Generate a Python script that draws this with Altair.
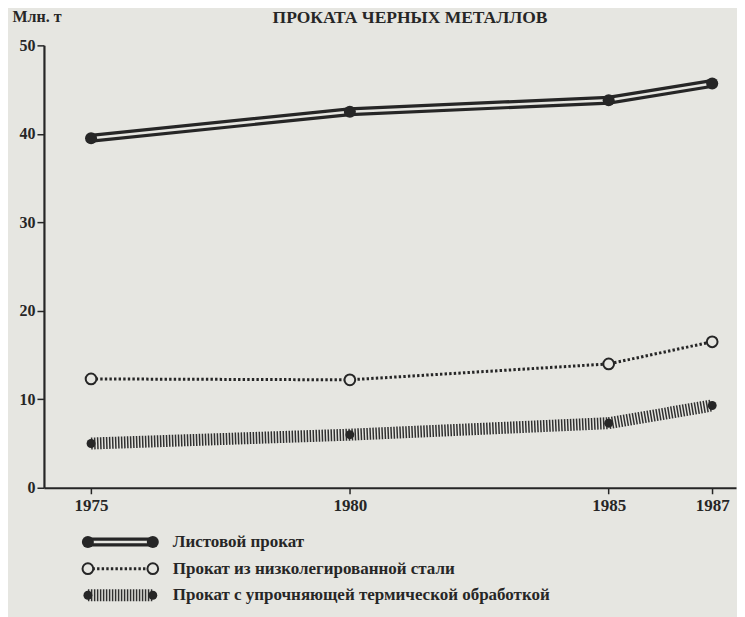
import altair as alt
import pandas as pd

# ---- data ----
years = [1975, 1980, 1985, 1987]
sheet = [39.5, 42.5, 43.8, 45.7]          # Листовой прокат
low_alloy = [12.3, 12.2, 14.0, 16.5]      # Прокат из низколегированной стали
hardened = [5.0, 6.0, 7.3, 9.3]           # Прокат с упрочняющей термической обработкой
series_names = [
    "Листовой прокат",
    "Прокат из низколегированной стали",
    "Прокат с упрочняющей термической обработкой",
]
x_ticks = [1975, 1980, 1985, 1987]
y_ticks = [0, 10, 20, 30, 40, 50]
title_lines = ["ПРОИЗВОДСТВО ОТДЕЛЬНЫХ ВИДОВ ГОТОВОГО", "ПРОКАТА ЧЕРНЫХ МЕТАЛЛОВ"]
y_title = "Млн. т"

FONT = "Liberation Serif"
INK = "#262626"
PAPER = "#e6e6e1"

df = pd.DataFrame({
    "year": years * 3,
    "value": sheet + low_alloy + hardened,
    "series": [n for n in series_names for _ in years],
})

x_enc = alt.X(
    "year:Q",
    scale=alt.Scale(domain=[1974.09, 1987.46], nice=False, zero=False),
    axis=alt.Axis(values=x_ticks, format="d", title=None, grid=False,
                  labelFont=FONT, labelFontWeight="bold", labelFontSize=17,
                  labelColor=INK, tickColor=INK, tickSize=6, tickWidth=1.5,
                  domainColor=INK, domainWidth=2.2, labelPadding=4),
)
y_enc = alt.Y(
    "value:Q",
    scale=alt.Scale(domain=[0, 50], nice=False),
    axis=alt.Axis(values=y_ticks, title=y_title, titleAngle=0, titleAlign="left",
                  titleX=-32, titleY=-24, titleBaseline="alphabetic",
                  titleFont=FONT, titleFontSize=16, titleFontWeight="bold",
                  titleColor=INK, grid=False,
                  labelFont=FONT, labelFontWeight="bold", labelFontSize=16,
                  labelColor=INK, tickColor=INK, tickSize=7, tickWidth=1.5,
                  domainColor=INK, domainWidth=2.2, labelPadding=2),
)

base = alt.Chart(df).encode(x=x_enc, y=y_enc)


def pick(i):
    return base.transform_filter(alt.datum.series == series_names[i])


def styled_layers(chart_for):
    s0 = chart_for(0)
    s1 = chart_for(1)
    s2 = chart_for(2)
    return [
        s0.mark_line(color=INK, strokeWidth=9),
        s0.mark_line(color=PAPER, strokeWidth=2.6),
        s0.mark_circle(size=145, color=INK, opacity=1),
        s1.mark_line(color=INK, strokeWidth=3, strokeDash=[2.4, 2.2]),
        s1.mark_point(shape="circle", filled=True, fill=PAPER, stroke=INK,
                      strokeWidth=2, size=115, opacity=1),
        s2.mark_line(color="#303030", strokeWidth=12, strokeDash=[1.5, 1.5]),
        s2.mark_circle(size=80, color=INK, opacity=1),
    ]


main = alt.layer(*styled_layers(pick)).properties(width=693, height=443)

# ---- legend panel: sample line from t=0 to t=1 for each series ----
leg_df = pd.DataFrame({
    "series": [n for n in series_names for _ in (0, 1)],
    "t": [0, 1] * 3,
})
lx = alt.X("t:Q", scale=alt.Scale(domain=[-0.677, 1], nice=False, zero=False), axis=None)
ly = alt.Y("series:N", sort=series_names,
           scale=alt.Scale(type="point", padding=0.5), axis=None)
leg_base = alt.Chart(leg_df).encode(x=lx, y=ly)


def leg_pick(i):
    return leg_base.transform_filter(alt.datum.series == series_names[i])


leg_text = alt.Chart(pd.DataFrame({"series": series_names, "t": [1] * 3})).mark_text(
    align="left", baseline="middle", dx=20, font=FONT, fontSize=17,
    fontWeight="bold", color=INK,
).encode(x=lx, y=ly, text="series:N")

legend = alt.layer(*styled_layers(leg_pick), leg_text).properties(width=109, height=80)

chart = alt.vconcat(main, legend, spacing=10).properties(
    title=alt.TitleParams(title_lines, font=FONT, fontSize=17.5, fontWeight="bold",
                          color=INK, anchor="middle", lineHeight=19, offset=-18, dx=36),
    padding={"left": 4, "top": -19, "right": 0, "bottom": 0},
    background=PAPER,
).configure_view(stroke=None)

chart.save("out.html", embed_options={"renderer": "svg", "actions": False})
